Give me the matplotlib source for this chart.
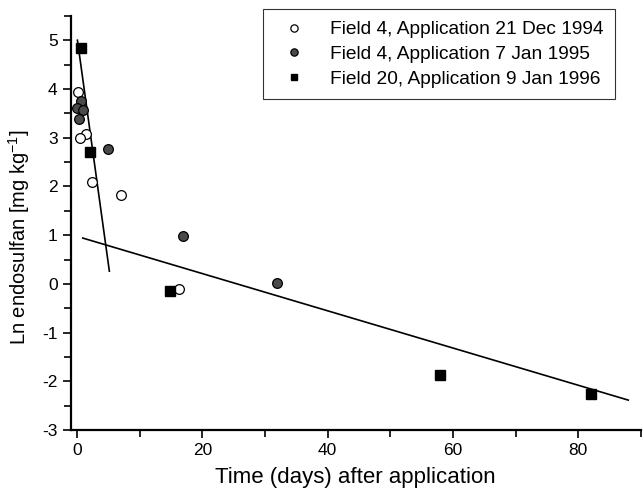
import numpy as np
import matplotlib.pyplot as plt
from matplotlib.ticker import MultipleLocator

plt.rcParams['font.family'] = ['Liberation Sans', 'DejaVu Sans']
plt.rcParams['axes.unicode_minus'] = False
plt.rcParams['mathtext.fontset'] = 'custom'
plt.rcParams['mathtext.rm'] = 'Liberation Sans'
plt.rcParams['mathtext.it'] = 'Liberation Sans'

# Field 4, application 21 Dec 1994 (open circles)
days_a = [0.1, 1.4, 0.5, 2.4, 7.0, 16.2]
ln_a = [3.94, 3.07, 3.00, 2.09, 1.82, -0.11]

# Field 4, application 7 Jan 1995 (grey circles)
days_b = [0.6, 0.0, 1.0, 0.3, 5.0, 16.9, 31.9]
ln_b = [3.75, 3.62, 3.58, 3.39, 2.76, 0.99, 0.02]

# Field 20, application 9 Jan 1996 (squares)
days_c = [0.6, 2.0, 14.9, 58.0, 82.1]
ln_c = [4.84, 2.71, -0.15, -1.87, -2.27]

# regression lines: (x start, x end, intercept, slope)
fast_fit = (0.05, 5.15, 5.05, -0.93)
slow_fit = (0.9, 88.0, 0.975, -0.0382)

labels = ['Field 4, Application 21 Dec 1994',
          'Field 4, Application 7 Jan 1995',
          'Field 20, Application 9 Jan 1996']

fig = plt.figure(figsize=(6.44, 4.94), dpi=100)
ax = fig.add_axes([0.110, 0.1296, 0.885, 0.838])

for x0, x1, b0, b1 in (fast_fit, slow_fit):
    xs = np.array([x0, x1])
    ax.plot(xs, b0 + b1 * xs, color='black', lw=1.2, zorder=2)

ax.plot(days_a, ln_a, 'o', ms=7, mfc='white', mec='black', mew=0.9,
        label=labels[0], zorder=3)
ax.plot(days_b, ln_b, 'o', ms=7, mfc='#4a4a4a', mec='black', mew=0.9,
        label=labels[1], zorder=3)
ax.plot(days_c, ln_c, 's', ms=6.5, mfc='black', mec='black',
        label=labels[2], zorder=4)

ax.set_xlim(-1, 90)
ax.set_ylim(-3, 5.5)
ax.xaxis.set_major_locator(MultipleLocator(20))
ax.xaxis.set_minor_locator(MultipleLocator(10))
ax.yaxis.set_major_locator(MultipleLocator(1))
ax.yaxis.set_minor_locator(MultipleLocator(0.5))
ax.tick_params(which='both', direction='out', width=1.2, labelsize=12.5)
ax.tick_params(which='major', length=6)
ax.tick_params(which='minor', length=5)

for s in ('top', 'right'):
    ax.spines[s].set_visible(False)
for s in ('left', 'bottom'):
    ax.spines[s].set_linewidth(1.6)

ax.set_xlabel('Time (days) after application', fontsize=16, labelpad=6)
ax.set_ylabel('Ln endosulfan [mg kg$^{-1}$]', fontsize=14.5)
ax.yaxis.set_label_coords(-0.068, 0.466)

leg = ax.legend(loc='upper right', bbox_to_anchor=(0.9715, 1.039), fontsize=13.8,
                frameon=True, fancybox=False, edgecolor='black',
                handletextpad=0.9, borderpad=0.6, labelspacing=0.38,
                handlelength=2.0, markerscale=0.75)
leg.get_frame().set_linewidth(0.8)

fig.savefig('out.png', dpi=100)
